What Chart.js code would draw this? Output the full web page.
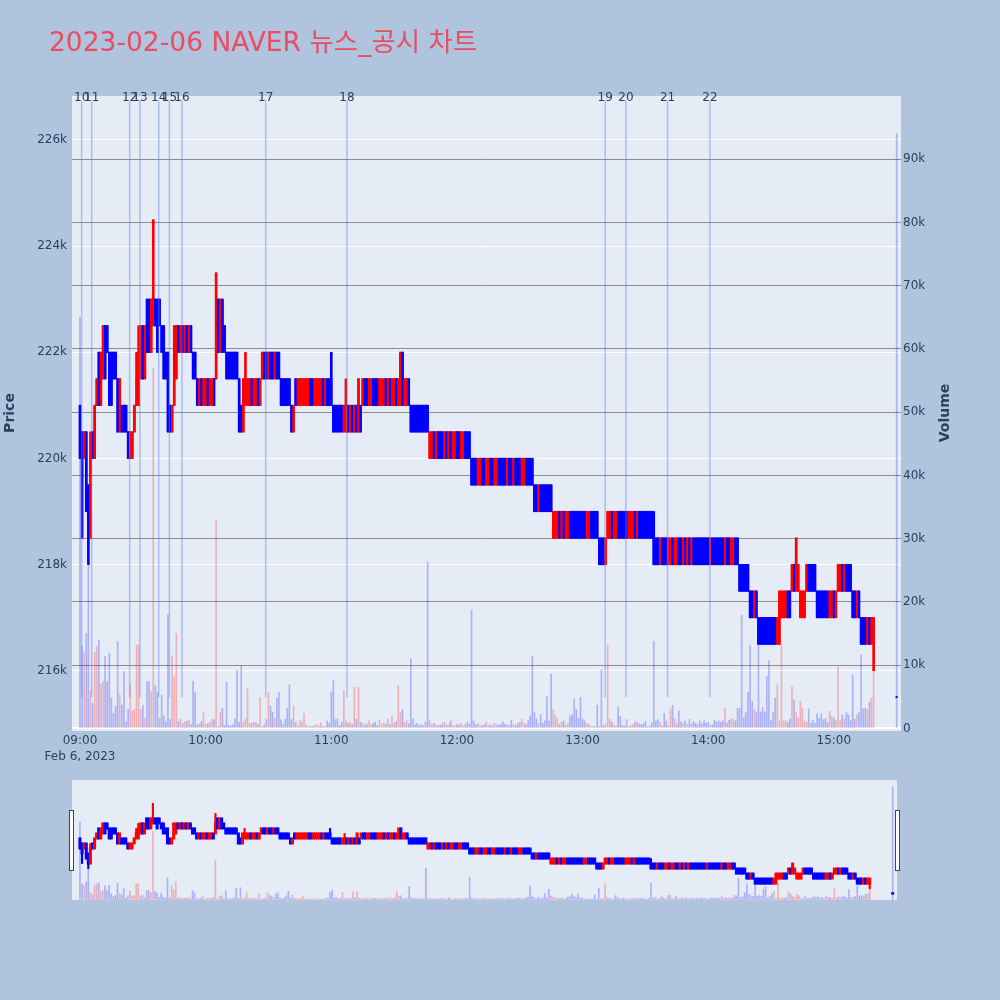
<!DOCTYPE html>
<html>
<head>
<meta charset="utf-8">
<script src="https://cdn.jsdelivr.net/npm/chart.js@4.4.0/dist/chart.umd.min.js"></script>
<style>
    html, body { margin: 0; padding: 0; background: #b0c4de; }
    #wrap { position: relative; width: 1000px; height: 1000px; }
    #main { position: absolute; left: 0; top: 0; }
    #slider { position: absolute; left: 72px; top: 780px; }
    .handle { position: absolute; top: 810px; width: 3px; height: 59px; background: #fff; border: 1px solid #444; }
</style>
</head>
<body>
<div id="wrap">
    <canvas id="main" width="1000" height="1000"></canvas>
    <canvas id="slider" width="825" height="120"></canvas>
    <div class="handle" style="left:69px"></div>
    <div class="handle" style="left:895px"></div>
</div>
<script>
// ---- data (prices and volumes in thousands) ----
const chartTitle = '2023-02-06 NAVER 뉴스_공시 차트';

// one candle per minute 09:00 .. 15:19, then the 15:30 closing auction
const minutes = Array.from({ length: 380 }, (_, i) => i).concat([390]);

const opens = [
    221,220.5,220,220.5,219.5,218.5,220.5,220,221,222,
    221,221.5,222.5,222.5,222,222,222,222,221.5,220.5,
    221,221,221,220.5,220,220,220.5,221,221,221.5,
    222.5,221.5,223,223,222,222.5,223,223,223,222.5,
    222.5,222,222,221,220.5,221,221.5,222.5,222,222.5,
    222,222.5,222,222.5,222,222,221.5,221,221.5,221,
    221,221.5,221,221,221.5,221.5,223,222,223,222.5,
    222,222,222,222,222,222,221.5,221,220.5,221,
    221,221,221.5,221,221,221.5,221,221.5,222,222,
    221.5,222,222,221.5,222,222,221.5,221.5,221.5,221.5,
    221.5,221,220.5,221.5,221,221,221,221,221,221,
    221.5,221.5,221,221,221,221,221.5,221,221.5,221.5,
    221.5,221,221,221,221,221,220.5,220.5,221,220.5,
    221,220.5,221,220.5,221,221,221.5,221.5,221,221,
    221.5,221.5,221.5,221,221,221,221.5,221,221.5,221,
    221,221.5,221,221,222,221,221,221.5,221,221,
    221,221,221,221,221,221,221,220,220,220.5,
    220,220.5,220.5,220.5,220,220.5,220,220.5,220,220,
    220.5,220.5,220,220,220.5,220.5,220.5,220,220,220,
    219.5,219.5,220,220,219.5,219.5,220,220,219.5,219.5,
    220,220,220,220,219.5,220,220,219.5,220,220,
    220,219.5,219.5,220,220,220,220,219.5,219.5,219,
    219.5,219.5,219.5,219.5,219.5,219.5,218.5,218.5,218.5,219,
    218.5,219,218.5,218.5,219,219,219,219,219,219,
    219,219,218.5,218.5,219,219,219,219,218.5,218.5,
    218.5,218,218.5,218.5,219,218.5,218.5,219,219,219,
    219,219,218.5,218.5,218.5,219,218.5,219,219,219,
    219,219,219,219,218.5,218.5,218.5,218,218.5,218.5,
    218.5,218,218,218.5,218,218,218.5,218.5,218,218.5,
    218,218.5,218,218.5,218.5,218.5,218.5,218.5,218.5,218.5,
    218.5,218,218.5,218.5,218.5,218.5,218.5,218.5,218,218.5,
    218.5,218,218,218.5,218.5,218,218,218,218,218,
    217.5,217.5,217,217.5,217,217,217,217,217,217,
    217,217,217,216.5,216.5,217,217,217,217.5,217.5,
    217.5,218,217.5,217.5,217,217,217,217.5,218,218,
    218,218,217.5,217.5,217.5,217.5,217.5,217.5,217,217,
    217.5,217,217.5,217.5,218,217.5,218,218,218,217.5,
    217.5,217,217.5,217,217,217,216.5,217,216.5,216.5,
    215.5
];

const closes = [
    220,219.5,220.5,219,218.5,220,220,221,221.5,221,
    222,222.5,221.5,222,221,221,221.5,221.5,220.5,221.5,
    220.5,220.5,220.5,220,220.5,220.5,221,221.5,222,222.5,
    221.5,222.5,222,222,223,223,222.5,222,222.5,222,
    221.5,221.5,220.5,220.5,221,222.5,222.5,222,222.5,222,
    222.5,222,222.5,222,221.5,221.5,221,221.5,221,221.5,
    221.5,221,221.5,221.5,221,222.5,222,223,222,222,
    221.5,221.5,221.5,221.5,221.5,221.5,220.5,220.5,221.5,221.5,
    221.5,221.5,221,221.5,221.5,221,221.5,222,221.5,221.5,
    222,221.5,221.5,222,221.5,221.5,221,221,221,221,
    221,220.5,221,221,221.5,221.5,221.5,221.5,221.5,221.5,
    221,221,221.5,221.5,221.5,221.5,221,221.5,221,221,
    221,220.5,220.5,220.5,220.5,220.5,221,221,220.5,221,
    220.5,221,220.5,221.5,220.5,221.5,221,221,221.5,221.5,
    221,221,221,221.5,221.5,221.5,221,221.5,221,221.5,
    221.5,221,221.5,222,221,221.5,221.5,221,220.5,220.5,
    220.5,220.5,220.5,220.5,220.5,220.5,220.5,220.5,220.5,220,
    220.5,220,220,220,220.5,220,220.5,220,220.5,220.5,
    220,220,220.5,220.5,220,220,220,219.5,219.5,219.5,
    220,220,219.5,219.5,220,220,219.5,219.5,220,220,
    219.5,219.5,219.5,219.5,220,219.5,219.5,220,219.5,219.5,
    219.5,220,220,219.5,219.5,219.5,219.5,219,219,219.5,
    219,219,219,219,219,219,219,219,219,218.5,
    219,218.5,219,219,218.5,218.5,218.5,218.5,218.5,218.5,
    218.5,218.5,219,219,218.5,218.5,218.5,218.5,218,218,
    218,218.5,219,219,218.5,219,219,218.5,218.5,218.5,
    218.5,218.5,219,219,219,218.5,219,218.5,218.5,218.5,
    218.5,218.5,218.5,218.5,218,218,218,218.5,218,218,
    218,218.5,218.5,218,218.5,218.5,218,218,218.5,218,
    218.5,218,218.5,218,218,218,218,218,218,218,
    218,218.5,218,218,218,218,218,218,218.5,218,
    218,218.5,218.5,218,218,217.5,217.5,217.5,217.5,217.5,
    217,217,217.5,217,216.5,216.5,216.5,216.5,216.5,216.5,
    216.5,216.5,216.5,217,217.5,217.5,217.5,217.5,217,217,
    218,217.5,218.5,218,217.5,217.5,217.5,218,217.5,217.5,
    217.5,217.5,217,217,217,217,217,217,217.5,217.5,
    217,217.5,218,218,217.5,218,217.5,217.5,217.5,217,
    217,217.5,217,216.5,216.5,216.5,217,216.5,217,217,
    215.5
];

// minutes whose wick reaches past the body: [index, price]
const highWicks = [[5, 220.5], [27, 222], [28, 222.5], [35, 224.5], [65, 223.5], [79, 222], [120, 222], [127, 221.5], [274, 219]];
const lowWicks = [[1, 218.5], [4, 218], [379, 216]];

const volumes = [
    65,13,12,15,36,6,4,12,13,14,
    7,7.4,11.4,7.4,11.9,4.8,2.4,3.5,13.7,5.3,
    3.7,9,1.1,3,7,2.8,3.1,13.2,13.2,3,
    3.7,1.6,7.4,7.4,5.8,57,6.8,5.7,1.6,5.3,
    2,1.1,18,1.4,11.5,8.2,15,1.1,1.5,0.8,
    1.1,1.1,1.3,0.6,7.5,5.7,0.6,0.8,1.1,2.5,
    0.6,0.8,1,1.4,1.4,33,0.3,2.6,3.2,0.5,
    7.3,0.5,0.4,0.6,1.5,9.2,1,9.9,0.9,1.5,
    6.3,0.8,0.8,1,1,0.6,4.9,0.3,0.6,1.4,
    5.7,3.5,2.6,1.6,4.8,5.7,1.4,0.6,1.5,3.2,
    6.9,1.4,3.6,1,0.4,1.2,1,2.4,0.5,0.3,
    0.3,0.3,0.5,0.6,0.4,0.9,0.3,0.3,1.2,0.8,
    5.8,7.6,1.4,1.5,0.5,1,6,1.2,0.8,1,
    0.6,6.5,1.5,6.5,1,0.8,0.5,0.7,1.2,0.6,
    0.8,1,0.5,1.3,0.6,0.9,0.7,1.5,0.6,2,
    0.8,1.1,6.7,2.5,3,1,1.2,0.8,11,1.5,
    0.6,0.8,0.5,0.6,0.4,1,26.3,1.2,0.6,0.8,
    0.6,0.4,0.5,0.7,1,0.5,0.6,1.2,0.5,0.4,
    0.6,0.5,0.8,0.4,0.6,1,0.7,18.7,1.2,0.6,
    0.8,0.5,0.4,0.6,1.1,0.5,0.6,0.4,0.8,0.6,
    0.5,0.6,1,0.7,0.6,0.5,1.3,0.6,0.5,0.8,
    1,1.5,0.8,0.6,1.2,2,11.4,2.5,1.5,0.8,
    2.2,0.8,1.2,5,1.2,8.6,3,2,1.5,0.6,
    1,1.2,0.5,0.8,2,2.2,4.6,3,1.6,4.9,
    1.5,1.2,0.8,0.7,0.3,0.3,0.3,3.7,0.3,9.3,
    0.5,0.7,13.2,1.5,1,0.5,0.4,3.3,1.9,0.5,
    0.4,1.4,0.3,0.5,0.6,1,1,0.7,0.6,0.7,
    1.1,0.3,0.3,0.9,13.8,1.2,1.4,1,0.4,2.4,
    1.2,0.5,3.1,3.7,1.5,0.8,2.8,1.1,0.8,1.2,
    0.6,1.4,0.7,1.1,0.8,0.6,1.2,0.7,1.2,0.8,
    1,0.5,0.6,1.3,1,1.2,1,1.2,3.2,0.9,
    1.3,1.5,1.5,1.2,3.2,3.2,17.9,1.7,2.5,5.7,
    13.2,4.3,3,2.6,13.2,2.6,3.3,2.6,8.2,10.7,
    1.2,2.6,4.8,6.9,1.2,13.2,1.2,1.2,1,1.5,
    6.6,4.5,2.5,1.7,4.3,3.2,1.2,1,3.1,0.8,
    1.3,0.8,2.3,1.6,2.3,1.4,1.6,0.9,2.7,1.9,
    1.6,1.2,9.8,1.2,2.1,1.5,2.5,2.1,1.2,8.4,
    1.5,2.2,2.5,11.6,3.1,3.2,3,4.2,4.8,9.3,
    94
];

// news / disclosure markers (minutes after 09:00)
const newsTimes = [0.8, 5.6, 23.7, 28.6, 37.6, 42.7, 48.7, 88.7, 127.5, 250.8, 260.7, 280.6, 300.8];
const newsLabels = ['10', '11', '12', '13', '14', '15', '16', '17', '18', '19', '20', '21', '22'];
const newsSpan = [215.5, 226.75];

const priceTicks = [216, 218, 220, 222, 224, 226];
const volumeTicks = [0, 10, 20, 30, 40, 50, 60, 70, 80, 90];
const xTicks = [0, 60, 120, 180, 240, 300, 360];
const xTickLabels = ['09:00', '10:00', '11:00', '12:00', '13:00', '14:00', '15:00'];
const dateLabel = 'Feb 6, 2023';

// ---- styling ----
const UP = '#ff0000';
const DOWN = '#0000ff';
const UP_VOL = 'rgba(255, 0, 0, 0.25)';
const DOWN_VOL = 'rgba(0, 0, 255, 0.25)';
const TEXT = '#2a3f5f';
const X_RANGE = [-3.82, 392.07];
const PRICE_RANGE = [214.864, 226.829];
const VOL_RANGE = [-0.4, 100];

Chart.defaults.font.family = '"DejaVu Sans", "Noto Sans CJK KR", sans-serif';
Chart.defaults.animation = false;

const highs = opens.map((o, i) => Math.max(o, closes[i]));
const lows = opens.map((o, i) => Math.min(o, closes[i]));
highWicks.forEach(([i, v]) => { highs[i] = v; });
lowWicks.forEach(([i, v]) => { lows[i] = v; });

const isUp = i => closes[i] > opens[i];

// body: thin bar inflated on every side, like plotly's 2px candle outline
function makeDatasets(bodyW, bodyInflate, wickW, volW) {
    return [
        {
            label: 'Volume',
            yAxisID: 'y2',
            data: minutes.map((m, i) => ({ x: m, y: volumes[i] })),
            backgroundColor: minutes.map((m, i) => isUp(i) ? UP_VOL : DOWN_VOL),
            barThickness: volW,
            grouped: false,
            order: 3
        },
        {
            label: 'Wick',
            yAxisID: 'y',
            data: minutes.map((m, i) => ({ x: m, y: [lows[i], highs[i]] })),
            backgroundColor: minutes.map((m, i) => isUp(i) ? UP : DOWN),
            barThickness: wickW,
            grouped: false,
            order: 2
        },
        {
            label: 'Price',
            yAxisID: 'y',
            data: minutes.map((m, i) => ({ x: m, y: [opens[i], closes[i]] })),
            backgroundColor: minutes.map((m, i) => isUp(i) ? UP : DOWN),
            barThickness: bodyW,
            inflateAmount: bodyInflate,
            minBarLength: 0.5,
            grouped: false,
            order: 1
        }
    ];
}

// plot background
const plotBg = {
    id: 'plotBg',
    beforeDraw(chart) {
        const a = chart.chartArea;
        const ctx = chart.ctx;
        ctx.save();
        ctx.fillStyle = '#e5ecf6';
        ctx.fillRect(a.left, a.top, a.right - a.left, a.bottom - a.top);
        ctx.restore();
    }
};

// news lines, labels, titles
const decorations = {
    id: 'decorations',
    afterDatasetsDraw(chart) {
        const ctx = chart.ctx;
        const xs = chart.scales.x, ys = chart.scales.y;
        ctx.save();
        ctx.strokeStyle = 'rgba(99, 130, 235, 0.45)';
        ctx.lineWidth = 1.5;
        newsTimes.forEach(t => {
            const x = xs.getPixelForValue(t);
            ctx.beginPath();
            ctx.moveTo(x, ys.getPixelForValue(newsSpan[1]));
            ctx.lineTo(x, ys.getPixelForValue(newsSpan[0]));
            ctx.stroke();
        });
        ctx.restore();
    },
    afterDraw(chart) {
        const ctx = chart.ctx;
        const xs = chart.scales.x;
        ctx.save();
        // news numbers
        ctx.fillStyle = TEXT;
        ctx.font = '12px "DejaVu Sans", sans-serif';
        ctx.textAlign = 'center';
        ctx.textBaseline = 'alphabetic';
        newsTimes.forEach((t, i) => {
            ctx.fillText(newsLabels[i], xs.getPixelForValue(t), 101);
        });
        // title
        ctx.textAlign = 'left';
        ctx.fillStyle = '#e84d63';
        ctx.font = '26.5px "DejaVu Sans", "Noto Sans CJK KR", sans-serif';
        ctx.fillText(chartTitle, 49, 50.5);
        // axis titles
        ctx.fillStyle = TEXT;
        ctx.font = 'bold 14px "DejaVu Sans", sans-serif';
        ctx.textAlign = 'center';
        ctx.textBaseline = 'middle';
        [['Price', 10, 413], ['Volume', 945, 413]].forEach(([txt, x, y]) => {
            ctx.save();
            ctx.translate(x, y);
            ctx.rotate(-Math.PI / 2);
            ctx.fillText(txt, 0, 0);
            ctx.restore();
        });
        ctx.restore();
    }
};

document.addEventListener('DOMContentLoaded', function() {
    const tickFont = { size: 12, lineHeight: 1.4 };

    new Chart(document.getElementById('main'), {
        type: 'bar',
        data: { datasets: makeDatasets(0.9, 0.6, 2, 1) },
        options: {
            responsive: false,
            devicePixelRatio: 1,
            events: [],
            layout: { padding: { top: 96, left: 0, right: 0, bottom: 0 } },
            plugins: { legend: { display: false }, tooltip: { enabled: false } },
            scales: {
                x: {
                    type: 'linear',
                    min: X_RANGE[0],
                    max: X_RANGE[1],
                    offset: false,
                    grid: { display: false, drawTicks: false, offset: false },
                    border: { display: false },
                    afterBuildTicks: s => { s.ticks = xTicks.map(v => ({ value: v })); },
                    afterFit: s => { s.height = 269; },
                    ticks: {
                        autoSkip: false,
                        maxRotation: 0,
                        padding: 1,
                        color: TEXT,
                        font: tickFont,
                        callback: (v, i) => i === 0 ? [xTickLabels[0], dateLabel] : xTickLabels[i]
                    }
                },
                y: {
                    type: 'linear',
                    position: 'left',
                    min: PRICE_RANGE[0],
                    max: PRICE_RANGE[1],
                    grid: { color: '#ffffff', lineWidth: 1, drawTicks: false },
                    border: { display: false },
                    afterBuildTicks: s => { s.ticks = priceTicks.map(v => ({ value: v })); },
                    afterFit: s => { s.width = 72; },
                    ticks: { padding: 5, color: TEXT, font: tickFont, callback: v => v + 'k' }
                },
                y2: {
                    type: 'linear',
                    position: 'right',
                    min: VOL_RANGE[0],
                    max: VOL_RANGE[1],
                    grid: {
                        color: c => (c.tick && c.tick.value === 0) ? '#ffffff' : '#8c8c8c',
                        lineWidth: c => (c.tick && c.tick.value === 0) ? 2 : 1,
                        drawTicks: false
                    },
                    border: { display: false },
                    afterBuildTicks: s => { s.ticks = volumeTicks.map(v => ({ value: v })); },
                    afterFit: s => { s.width = 99; },
                    ticks: { padding: 2, color: TEXT, font: tickFont, callback: v => v === 0 ? '0' : v + 'k' }
                }
            }
        },
        plugins: [plotBg, decorations]
    });

    // range slider: the same traces squeezed into the strip below
    new Chart(document.getElementById('slider'), {
        type: 'bar',
        data: { datasets: makeDatasets(1, 1, 1.5, 1) },
        options: {
            responsive: false,
            devicePixelRatio: 1,
            events: [],
            layout: { padding: 0 },
            plugins: { legend: { display: false }, tooltip: { enabled: false } },
            scales: {
                x: { type: 'linear', display: false, min: X_RANGE[0], max: X_RANGE[1], offset: false },
                y: { display: false, min: PRICE_RANGE[0], max: PRICE_RANGE[1] },
                y2: { display: false, position: 'right', min: VOL_RANGE[0], max: VOL_RANGE[1] }
            }
        },
        plugins: [plotBg]
    });
});
</script>
</body>
</html>
